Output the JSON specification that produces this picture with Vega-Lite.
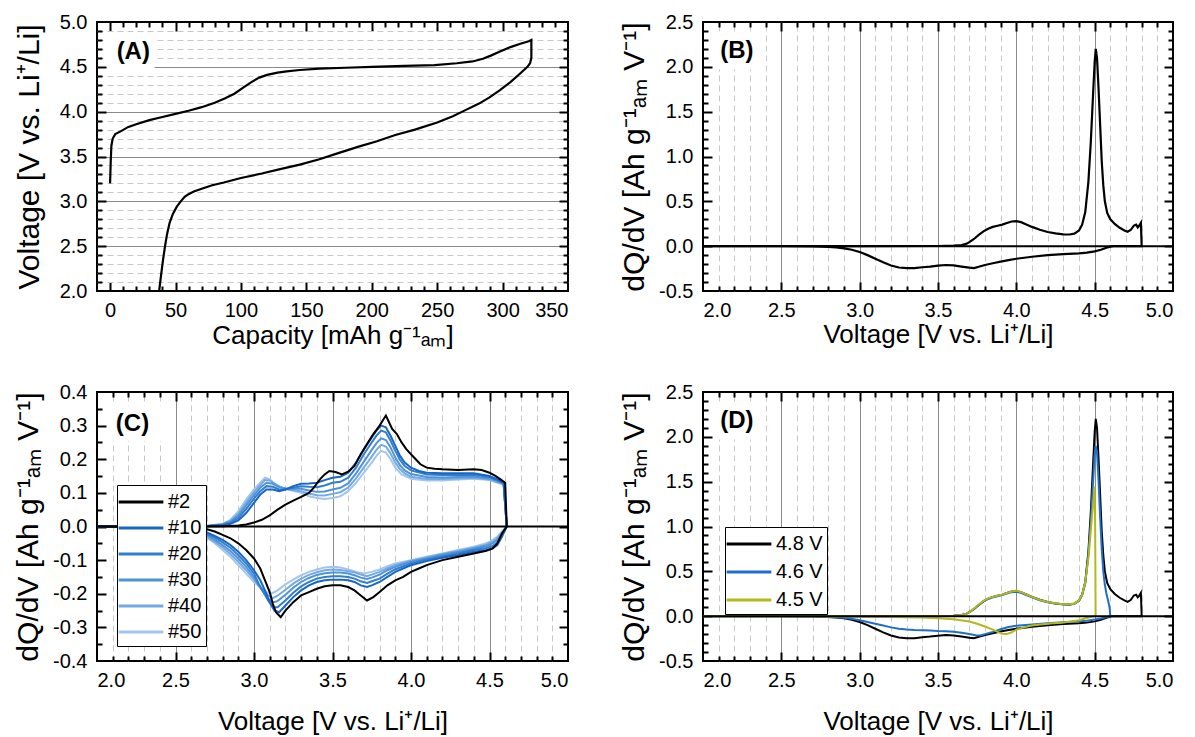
{
"$schema":"https://vega.github.io/schema/vega-lite/v6.json",
"padding":{"left":12,"top":11,"right":5,"bottom":5},
"background":"white",
"config":{
 "font":"Liberation Sans",
 "view":{"stroke":"black","strokeWidth":2},
 "axis":{"domain":false,"ticks":false,"labelFont":"Liberation Sans","labelFontSize":20,"labelColor":"black","titleFont":"Liberation Sans","titleFontSize":26,"titleFontWeight":"normal","titleColor":"black","gridWidth":1},
 "legend":{"labelFont":"Liberation Sans","labelFontSize":20,"labelColor":"black"}
},
"resolve":{"scale":{"color":"independent"},"legend":{"color":"independent"}},
"datasets":{
"a":[
{"c":0,"u":3.2},{"c":0.5,"u":3.45},{"c":1,"u":3.62},{"c":2,"u":3.7},{"c":4,"u":3.75},{"c":8,"u":3.78},{"c":14,"u":3.83},{"c":20,"u":3.86},{"c":30,"u":3.905},{"c":40,"u":3.94},{"c":50,"u":3.975},{"c":60,"u":4.01},{"c":70,"u":4.05},{"c":80,"u":4.1},{"c":88,"u":4.15},{"c":95,"u":4.2},{"c":102,"u":4.27},{"c":108,"u":4.33},{"c":114,"u":4.38},{"c":120,"u":4.41},{"c":128,"u":4.435},{"c":135,"u":4.45},{"c":145,"u":4.465},{"c":160,"u":4.48},{"c":180,"u":4.49},{"c":200,"u":4.5},{"c":225,"u":4.51},{"c":248,"u":4.52},{"c":265,"u":4.54},{"c":277,"u":4.56},{"c":285,"u":4.59},{"c":291,"u":4.625},{"c":298,"u":4.67},{"c":306,"u":4.72},{"c":313,"u":4.755},{"c":320,"u":4.785},{"c":322,"u":4.8},
{"c":322,"u":4.6},{"c":321,"u":4.54},{"c":319,"u":4.5},{"c":313,"u":4.42},{"c":306,"u":4.33},{"c":298,"u":4.24},{"c":290,"u":4.16},{"c":282,"u":4.09},{"c":272,"u":4.02},{"c":262,"u":3.95},{"c":250,"u":3.88},{"c":233,"u":3.8},{"c":218,"u":3.74},{"c":204,"u":3.67},{"c":190,"u":3.61},{"c":175,"u":3.54},{"c":160,"u":3.47},{"c":145,"u":3.41},{"c":130,"u":3.36},{"c":116,"u":3.31},{"c":100,"u":3.26},{"c":87,"u":3.21},{"c":78,"u":3.18},{"c":70,"u":3.14},{"c":64,"u":3.11},{"c":60,"u":3.08},{"c":57,"u":3.05},{"c":54,"u":3.0},{"c":51,"u":2.94},{"c":48,"u":2.86},{"c":45.5,"u":2.76},{"c":43.5,"u":2.63},{"c":42,"u":2.5},{"c":40.5,"u":2.35},{"c":39,"u":2.18},{"c":37.5,"u":2.0}
],
"d":[
{"s":"4.8 V","v":2.0,"q":0},{"s":"4.8 V","v":3.0,"q":0},{"s":"4.8 V","v":3.5,"q":0.002},{"s":"4.8 V","v":3.6,"q":0.005},{"s":"4.8 V","v":3.65,"q":0.012},{"s":"4.8 V","v":3.68,"q":0.025},{"s":"4.8 V","v":3.7,"q":0.045},{"s":"4.8 V","v":3.73,"q":0.08},{"s":"4.8 V","v":3.76,"q":0.125},{"s":"4.8 V","v":3.79,"q":0.165},{"s":"4.8 V","v":3.82,"q":0.195},{"s":"4.8 V","v":3.85,"q":0.215},{"s":"4.8 V","v":3.88,"q":0.228},{"s":"4.8 V","v":3.91,"q":0.24},{"s":"4.8 V","v":3.94,"q":0.258},{"s":"4.8 V","v":3.97,"q":0.275},{"s":"4.8 V","v":4.0,"q":0.28},{"s":"4.8 V","v":4.03,"q":0.268},{"s":"4.8 V","v":4.06,"q":0.245},{"s":"4.8 V","v":4.1,"q":0.215},{"s":"4.8 V","v":4.15,"q":0.183},{"s":"4.8 V","v":4.2,"q":0.158},{"s":"4.8 V","v":4.25,"q":0.142},{"s":"4.8 V","v":4.3,"q":0.132},{"s":"4.8 V","v":4.34,"q":0.13},{"s":"4.8 V","v":4.37,"q":0.14},{"s":"4.8 V","v":4.4,"q":0.175},{"s":"4.8 V","v":4.42,"q":0.24},{"s":"4.8 V","v":4.44,"q":0.38},{"s":"4.8 V","v":4.46,"q":0.72},{"s":"4.8 V","v":4.475,"q":1.15},{"s":"4.8 V","v":4.49,"q":1.7},{"s":"4.8 V","v":4.5,"q":2.05},{"s":"4.8 V","v":4.507,"q":2.2},{"s":"4.8 V","v":4.515,"q":2.1},{"s":"4.8 V","v":4.525,"q":1.75},{"s":"4.8 V","v":4.535,"q":1.35},{"s":"4.8 V","v":4.545,"q":0.95},{"s":"4.8 V","v":4.555,"q":0.68},{"s":"4.8 V","v":4.565,"q":0.5},{"s":"4.8 V","v":4.58,"q":0.37},{"s":"4.8 V","v":4.6,"q":0.3},{"s":"4.8 V","v":4.63,"q":0.245},{"s":"4.8 V","v":4.66,"q":0.205},{"s":"4.8 V","v":4.69,"q":0.175},{"s":"4.8 V","v":4.71,"q":0.16},{"s":"4.8 V","v":4.73,"q":0.18},{"s":"4.8 V","v":4.75,"q":0.23},{"s":"4.8 V","v":4.765,"q":0.24},{"s":"4.8 V","v":4.775,"q":0.21},{"s":"4.8 V","v":4.785,"q":0.23},{"s":"4.8 V","v":4.795,"q":0.26},{"s":"4.8 V","v":4.8,"q":0},
{"s":"4.8 V","v":4.62,"q":0},{"s":"4.8 V","v":4.6,"q":-0.005},{"s":"4.8 V","v":4.57,"q":-0.02},{"s":"4.8 V","v":4.54,"q":-0.04},{"s":"4.8 V","v":4.5,"q":-0.058},{"s":"4.8 V","v":4.45,"q":-0.072},{"s":"4.8 V","v":4.4,"q":-0.08},{"s":"4.8 V","v":4.3,"q":-0.088},{"s":"4.8 V","v":4.2,"q":-0.1},{"s":"4.8 V","v":4.1,"q":-0.118},{"s":"4.8 V","v":4.0,"q":-0.14},{"s":"4.8 V","v":3.95,"q":-0.155},{"s":"4.8 V","v":3.9,"q":-0.172},{"s":"4.8 V","v":3.85,"q":-0.19},{"s":"4.8 V","v":3.8,"q":-0.21},{"s":"4.8 V","v":3.76,"q":-0.23},{"s":"4.8 V","v":3.73,"q":-0.245},{"s":"4.8 V","v":3.7,"q":-0.24},{"s":"4.8 V","v":3.65,"q":-0.228},{"s":"4.8 V","v":3.6,"q":-0.215},{"s":"4.8 V","v":3.55,"q":-0.21},{"s":"4.8 V","v":3.5,"q":-0.218},{"s":"4.8 V","v":3.45,"q":-0.228},{"s":"4.8 V","v":3.4,"q":-0.235},{"s":"4.8 V","v":3.35,"q":-0.245},{"s":"4.8 V","v":3.3,"q":-0.245},{"s":"4.8 V","v":3.25,"q":-0.238},{"s":"4.8 V","v":3.2,"q":-0.215},{"s":"4.8 V","v":3.15,"q":-0.18},{"s":"4.8 V","v":3.1,"q":-0.14},{"s":"4.8 V","v":3.05,"q":-0.1},{"s":"4.8 V","v":3.0,"q":-0.065},{"s":"4.8 V","v":2.95,"q":-0.04},{"s":"4.8 V","v":2.9,"q":-0.024},{"s":"4.8 V","v":2.85,"q":-0.014},{"s":"4.8 V","v":2.8,"q":-0.008},{"s":"4.8 V","v":2.7,"q":-0.004},{"s":"4.8 V","v":2.5,"q":-0.001},{"s":"4.8 V","v":2.0,"q":0},
{"s":"4.6 V","v":2.0,"q":0},{"s":"4.6 V","v":3.0,"q":0},{"s":"4.6 V","v":3.5,"q":0.002},{"s":"4.6 V","v":3.6,"q":0.005},{"s":"4.6 V","v":3.65,"q":0.012},{"s":"4.6 V","v":3.68,"q":0.025},{"s":"4.6 V","v":3.7,"q":0.045},{"s":"4.6 V","v":3.73,"q":0.08},{"s":"4.6 V","v":3.76,"q":0.125},{"s":"4.6 V","v":3.79,"q":0.165},{"s":"4.6 V","v":3.82,"q":0.192},{"s":"4.6 V","v":3.85,"q":0.21},{"s":"4.6 V","v":3.88,"q":0.222},{"s":"4.6 V","v":3.91,"q":0.235},{"s":"4.6 V","v":3.94,"q":0.252},{"s":"4.6 V","v":3.97,"q":0.268},{"s":"4.6 V","v":4.0,"q":0.272},{"s":"4.6 V","v":4.03,"q":0.26},{"s":"4.6 V","v":4.06,"q":0.238},{"s":"4.6 V","v":4.1,"q":0.21},{"s":"4.6 V","v":4.15,"q":0.178},{"s":"4.6 V","v":4.2,"q":0.155},{"s":"4.6 V","v":4.25,"q":0.14},{"s":"4.6 V","v":4.3,"q":0.13},{"s":"4.6 V","v":4.34,"q":0.128},{"s":"4.6 V","v":4.37,"q":0.138},{"s":"4.6 V","v":4.4,"q":0.17},{"s":"4.6 V","v":4.42,"q":0.235},{"s":"4.6 V","v":4.44,"q":0.37},{"s":"4.6 V","v":4.46,"q":0.68},{"s":"4.6 V","v":4.475,"q":1.05},{"s":"4.6 V","v":4.49,"q":1.5},{"s":"4.6 V","v":4.5,"q":1.8},{"s":"4.6 V","v":4.507,"q":1.9},{"s":"4.6 V","v":4.515,"q":1.82},{"s":"4.6 V","v":4.525,"q":1.5},{"s":"4.6 V","v":4.535,"q":1.1},{"s":"4.6 V","v":4.545,"q":0.75},{"s":"4.6 V","v":4.555,"q":0.5},{"s":"4.6 V","v":4.565,"q":0.35},{"s":"4.6 V","v":4.575,"q":0.25},{"s":"4.6 V","v":4.585,"q":0.18},{"s":"4.6 V","v":4.595,"q":0.1},{"s":"4.6 V","v":4.6,"q":0},
{"s":"4.6 V","v":4.57,"q":-0.012},{"s":"4.6 V","v":4.54,"q":-0.025},{"s":"4.6 V","v":4.5,"q":-0.038},{"s":"4.6 V","v":4.45,"q":-0.05},{"s":"4.6 V","v":4.4,"q":-0.058},{"s":"4.6 V","v":4.3,"q":-0.068},{"s":"4.6 V","v":4.2,"q":-0.08},{"s":"4.6 V","v":4.1,"q":-0.093},{"s":"4.6 V","v":4.0,"q":-0.108},{"s":"4.6 V","v":3.95,"q":-0.12},{"s":"4.6 V","v":3.9,"q":-0.145},{"s":"4.6 V","v":3.85,"q":-0.175},{"s":"4.6 V","v":3.8,"q":-0.2},{"s":"4.6 V","v":3.77,"q":-0.215},{"s":"4.6 V","v":3.74,"q":-0.212},{"s":"4.6 V","v":3.7,"q":-0.2},{"s":"4.6 V","v":3.65,"q":-0.185},{"s":"4.6 V","v":3.6,"q":-0.175},{"s":"4.6 V","v":3.55,"q":-0.168},{"s":"4.6 V","v":3.5,"q":-0.165},{"s":"4.6 V","v":3.45,"q":-0.16},{"s":"4.6 V","v":3.4,"q":-0.157},{"s":"4.6 V","v":3.35,"q":-0.155},{"s":"4.6 V","v":3.3,"q":-0.15},{"s":"4.6 V","v":3.25,"q":-0.14},{"s":"4.6 V","v":3.2,"q":-0.125},{"s":"4.6 V","v":3.15,"q":-0.105},{"s":"4.6 V","v":3.1,"q":-0.085},{"s":"4.6 V","v":3.05,"q":-0.065},{"s":"4.6 V","v":3.0,"q":-0.045},{"s":"4.6 V","v":2.95,"q":-0.03},{"s":"4.6 V","v":2.9,"q":-0.018},{"s":"4.6 V","v":2.85,"q":-0.012},{"s":"4.6 V","v":2.8,"q":-0.008},{"s":"4.6 V","v":2.7,"q":-0.004},{"s":"4.6 V","v":2.5,"q":-0.001},{"s":"4.6 V","v":2.0,"q":0},
{"s":"4.5 V","v":2.0,"q":0},{"s":"4.5 V","v":3.0,"q":0},{"s":"4.5 V","v":3.5,"q":0.002},{"s":"4.5 V","v":3.6,"q":0.005},{"s":"4.5 V","v":3.65,"q":0.012},{"s":"4.5 V","v":3.68,"q":0.025},{"s":"4.5 V","v":3.7,"q":0.045},{"s":"4.5 V","v":3.73,"q":0.085},{"s":"4.5 V","v":3.76,"q":0.13},{"s":"4.5 V","v":3.79,"q":0.17},{"s":"4.5 V","v":3.82,"q":0.198},{"s":"4.5 V","v":3.85,"q":0.215},{"s":"4.5 V","v":3.88,"q":0.228},{"s":"4.5 V","v":3.91,"q":0.24},{"s":"4.5 V","v":3.94,"q":0.258},{"s":"4.5 V","v":3.97,"q":0.275},{"s":"4.5 V","v":4.0,"q":0.285},{"s":"4.5 V","v":4.03,"q":0.27},{"s":"4.5 V","v":4.06,"q":0.245},{"s":"4.5 V","v":4.1,"q":0.215},{"s":"4.5 V","v":4.15,"q":0.182},{"s":"4.5 V","v":4.2,"q":0.158},{"s":"4.5 V","v":4.25,"q":0.143},{"s":"4.5 V","v":4.3,"q":0.133},{"s":"4.5 V","v":4.34,"q":0.132},{"s":"4.5 V","v":4.37,"q":0.142},{"s":"4.5 V","v":4.4,"q":0.175},{"s":"4.5 V","v":4.42,"q":0.24},{"s":"4.5 V","v":4.44,"q":0.38},{"s":"4.5 V","v":4.46,"q":0.65},{"s":"4.5 V","v":4.475,"q":0.95},{"s":"4.5 V","v":4.49,"q":1.25},{"s":"4.5 V","v":4.5,"q":1.45},{"s":"4.5 V","v":4.503,"q":1.0},{"s":"4.5 V","v":4.505,"q":0.4},{"s":"4.5 V","v":4.506,"q":0},
{"s":"4.5 V","v":4.48,"q":-0.005},{"s":"4.5 V","v":4.45,"q":-0.02},{"s":"4.5 V","v":4.4,"q":-0.045},{"s":"4.5 V","v":4.35,"q":-0.06},{"s":"4.5 V","v":4.3,"q":-0.07},{"s":"4.5 V","v":4.2,"q":-0.085},{"s":"4.5 V","v":4.1,"q":-0.105},{"s":"4.5 V","v":4.05,"q":-0.125},{"s":"4.5 V","v":4.0,"q":-0.15},{"s":"4.5 V","v":3.97,"q":-0.18},{"s":"4.5 V","v":3.94,"q":-0.2},{"s":"4.5 V","v":3.91,"q":-0.195},{"s":"4.5 V","v":3.88,"q":-0.175},{"s":"4.5 V","v":3.85,"q":-0.15},{"s":"4.5 V","v":3.8,"q":-0.115},{"s":"4.5 V","v":3.75,"q":-0.085},{"s":"4.5 V","v":3.7,"q":-0.06},{"s":"4.5 V","v":3.6,"q":-0.035},{"s":"4.5 V","v":3.5,"q":-0.022},{"s":"4.5 V","v":3.4,"q":-0.015},{"s":"4.5 V","v":3.3,"q":-0.011},{"s":"4.5 V","v":3.2,"q":-0.008},{"s":"4.5 V","v":3.0,"q":-0.005},{"s":"4.5 V","v":2.8,"q":-0.003},{"s":"4.5 V","v":2.5,"q":-0.001},{"s":"4.5 V","v":2.0,"q":0}
],
"c":[
{"s":"#50","v":2.0,"q":0},{"s":"#50","v":2.7,"q":0.002},{"s":"#50","v":2.8,"q":0.008},{"s":"#50","v":2.85,"q":0.02},{"s":"#50","v":2.9,"q":0.045},{"s":"#50","v":2.95,"q":0.08},{"s":"#50","v":3.0,"q":0.11},{"s":"#50","v":3.04,"q":0.13},{"s":"#50","v":3.07,"q":0.145},{"s":"#50","v":3.1,"q":0.14},{"s":"#50","v":3.14,"q":0.125},{"s":"#50","v":3.18,"q":0.115},{"s":"#50","v":3.22,"q":0.11},{"s":"#50","v":3.26,"q":0.105},{"s":"#50","v":3.3,"q":0.1},{"s":"#50","v":3.35,"q":0.09},{"s":"#50","v":3.4,"q":0.085},{"s":"#50","v":3.45,"q":0.082},{"s":"#50","v":3.5,"q":0.085},{"s":"#50","v":3.55,"q":0.09},{"s":"#50","v":3.6,"q":0.105},{"s":"#50","v":3.65,"q":0.13},{"s":"#50","v":3.7,"q":0.16},{"s":"#50","v":3.75,"q":0.19},{"s":"#50","v":3.78,"q":0.21},{"s":"#50","v":3.81,"q":0.225},{"s":"#50","v":3.84,"q":0.22},{"s":"#50","v":3.87,"q":0.2},{"s":"#50","v":3.9,"q":0.175},{"s":"#50","v":3.94,"q":0.155},{"s":"#50","v":4.0,"q":0.142},{"s":"#50","v":4.1,"q":0.137},{"s":"#50","v":4.2,"q":0.137},{"s":"#50","v":4.3,"q":0.14},{"s":"#50","v":4.4,"q":0.142},{"s":"#50","v":4.5,"q":0.138},{"s":"#50","v":4.55,"q":0.13},{"s":"#50","v":4.59,"q":0.125},{"s":"#50","v":4.61,"q":0},
{"s":"#50","v":4.58,"q":-0.015},{"s":"#50","v":4.55,"q":-0.03},{"s":"#50","v":4.52,"q":-0.04},{"s":"#50","v":4.48,"q":-0.05},{"s":"#50","v":4.4,"q":-0.06},{"s":"#50","v":4.3,"q":-0.07},{"s":"#50","v":4.2,"q":-0.08},{"s":"#50","v":4.1,"q":-0.09},{"s":"#50","v":4.0,"q":-0.1},{"s":"#50","v":3.9,"q":-0.11},{"s":"#50","v":3.85,"q":-0.118},{"s":"#50","v":3.8,"q":-0.128},{"s":"#50","v":3.75,"q":-0.135},{"s":"#50","v":3.7,"q":-0.14},{"s":"#50","v":3.65,"q":-0.135},{"s":"#50","v":3.6,"q":-0.128},{"s":"#50","v":3.55,"q":-0.122},{"s":"#50","v":3.5,"q":-0.12},{"s":"#50","v":3.45,"q":-0.122},{"s":"#50","v":3.4,"q":-0.128},{"s":"#50","v":3.35,"q":-0.135},{"s":"#50","v":3.3,"q":-0.145},{"s":"#50","v":3.25,"q":-0.158},{"s":"#50","v":3.2,"q":-0.172},{"s":"#50","v":3.15,"q":-0.19},{"s":"#50","v":3.11,"q":-0.2},{"s":"#50","v":3.08,"q":-0.195},{"s":"#50","v":3.05,"q":-0.185},{"s":"#50","v":3.0,"q":-0.165},{"s":"#50","v":2.95,"q":-0.14},{"s":"#50","v":2.9,"q":-0.115},{"s":"#50","v":2.85,"q":-0.09},{"s":"#50","v":2.8,"q":-0.07},{"s":"#50","v":2.75,"q":-0.05},{"s":"#50","v":2.7,"q":-0.033},{"s":"#50","v":2.65,"q":-0.02},{"s":"#50","v":2.6,"q":-0.012},{"s":"#50","v":2.5,"q":-0.005},{"s":"#50","v":2.0,"q":-0.001},
{"s":"#40","v":2.0,"q":0},{"s":"#40","v":2.7,"q":0.0018},{"s":"#40","v":2.8,"q":0.007},{"s":"#40","v":2.85,"q":0.017},{"s":"#40","v":2.9,"q":0.038},{"s":"#40","v":2.95,"q":0.071},{"s":"#40","v":3.0,"q":0.102},{"s":"#40","v":3.04,"q":0.123},{"s":"#40","v":3.07,"q":0.138},{"s":"#40","v":3.1,"q":0.137},{"s":"#40","v":3.14,"q":0.124},{"s":"#40","v":3.18,"q":0.115},{"s":"#40","v":3.22,"q":0.11},{"s":"#40","v":3.26,"q":0.108},{"s":"#40","v":3.3,"q":0.105},{"s":"#40","v":3.35,"q":0.098},{"s":"#40","v":3.4,"q":0.093},{"s":"#40","v":3.45,"q":0.092},{"s":"#40","v":3.5,"q":0.097},{"s":"#40","v":3.55,"q":0.102},{"s":"#40","v":3.6,"q":0.116},{"s":"#40","v":3.65,"q":0.143},{"s":"#40","v":3.7,"q":0.176},{"s":"#40","v":3.75,"q":0.208},{"s":"#40","v":3.78,"q":0.228},{"s":"#40","v":3.81,"q":0.243},{"s":"#40","v":3.84,"q":0.238},{"s":"#40","v":3.87,"q":0.217},{"s":"#40","v":3.9,"q":0.19},{"s":"#40","v":3.93,"q":0.17},{"s":"#40","v":3.96,"q":0.158},{"s":"#40","v":4.0,"q":0.148},{"s":"#40","v":4.1,"q":0.141},{"s":"#40","v":4.2,"q":0.141},{"s":"#40","v":4.3,"q":0.143},{"s":"#40","v":4.4,"q":0.145},{"s":"#40","v":4.5,"q":0.14},{"s":"#40","v":4.55,"q":0.132},{"s":"#40","v":4.59,"q":0.126},{"s":"#40","v":4.61,"q":0},
{"s":"#40","v":4.58,"q":-0.018},{"s":"#40","v":4.55,"q":-0.035},{"s":"#40","v":4.52,"q":-0.045},{"s":"#40","v":4.48,"q":-0.054},{"s":"#40","v":4.4,"q":-0.063},{"s":"#40","v":4.3,"q":-0.073},{"s":"#40","v":4.2,"q":-0.082},{"s":"#40","v":4.1,"q":-0.092},{"s":"#40","v":4.0,"q":-0.102},{"s":"#40","v":3.9,"q":-0.115},{"s":"#40","v":3.85,"q":-0.124},{"s":"#40","v":3.8,"q":-0.135},{"s":"#40","v":3.75,"q":-0.143},{"s":"#40","v":3.72,"q":-0.148},{"s":"#40","v":3.68,"q":-0.143},{"s":"#40","v":3.64,"q":-0.136},{"s":"#40","v":3.6,"q":-0.133},{"s":"#40","v":3.55,"q":-0.129},{"s":"#40","v":3.5,"q":-0.128},{"s":"#40","v":3.45,"q":-0.13},{"s":"#40","v":3.4,"q":-0.136},{"s":"#40","v":3.35,"q":-0.144},{"s":"#40","v":3.3,"q":-0.155},{"s":"#40","v":3.25,"q":-0.17},{"s":"#40","v":3.2,"q":-0.188},{"s":"#40","v":3.15,"q":-0.206},{"s":"#40","v":3.12,"q":-0.213},{"s":"#40","v":3.09,"q":-0.205},{"s":"#40","v":3.06,"q":-0.19},{"s":"#40","v":3.03,"q":-0.175},{"s":"#40","v":3.0,"q":-0.157},{"s":"#40","v":2.95,"q":-0.13},{"s":"#40","v":2.9,"q":-0.105},{"s":"#40","v":2.85,"q":-0.082},{"s":"#40","v":2.8,"q":-0.062},{"s":"#40","v":2.75,"q":-0.045},{"s":"#40","v":2.7,"q":-0.03},{"s":"#40","v":2.6,"q":-0.011},{"s":"#40","v":2.5,"q":-0.005},{"s":"#40","v":2.0,"q":-0.001},
{"s":"#30","v":2.0,"q":0},{"s":"#30","v":2.7,"q":0.0015},{"s":"#30","v":2.8,"q":0.006},{"s":"#30","v":2.85,"q":0.014},{"s":"#30","v":2.9,"q":0.032},{"s":"#30","v":2.95,"q":0.062},{"s":"#30","v":3.0,"q":0.093},{"s":"#30","v":3.04,"q":0.115},{"s":"#30","v":3.08,"q":0.13},{"s":"#30","v":3.12,"q":0.127},{"s":"#30","v":3.16,"q":0.117},{"s":"#30","v":3.2,"q":0.113},{"s":"#30","v":3.25,"q":0.112},{"s":"#30","v":3.3,"q":0.112},{"s":"#30","v":3.35,"q":0.107},{"s":"#30","v":3.4,"q":0.103},{"s":"#30","v":3.45,"q":0.104},{"s":"#30","v":3.5,"q":0.11},{"s":"#30","v":3.55,"q":0.115},{"s":"#30","v":3.6,"q":0.128},{"s":"#30","v":3.65,"q":0.158},{"s":"#30","v":3.7,"q":0.193},{"s":"#30","v":3.75,"q":0.228},{"s":"#30","v":3.78,"q":0.248},{"s":"#30","v":3.81,"q":0.262},{"s":"#30","v":3.84,"q":0.257},{"s":"#30","v":3.87,"q":0.235},{"s":"#30","v":3.9,"q":0.205},{"s":"#30","v":3.93,"q":0.182},{"s":"#30","v":3.96,"q":0.167},{"s":"#30","v":4.0,"q":0.156},{"s":"#30","v":4.1,"q":0.147},{"s":"#30","v":4.2,"q":0.146},{"s":"#30","v":4.3,"q":0.147},{"s":"#30","v":4.4,"q":0.149},{"s":"#30","v":4.5,"q":0.143},{"s":"#30","v":4.55,"q":0.135},{"s":"#30","v":4.59,"q":0.128},{"s":"#30","v":4.61,"q":0},
{"s":"#30","v":4.58,"q":-0.02},{"s":"#30","v":4.55,"q":-0.04},{"s":"#30","v":4.52,"q":-0.05},{"s":"#30","v":4.48,"q":-0.058},{"s":"#30","v":4.4,"q":-0.066},{"s":"#30","v":4.3,"q":-0.076},{"s":"#30","v":4.2,"q":-0.085},{"s":"#30","v":4.1,"q":-0.095},{"s":"#30","v":4.0,"q":-0.105},{"s":"#30","v":3.9,"q":-0.12},{"s":"#30","v":3.85,"q":-0.13},{"s":"#30","v":3.8,"q":-0.143},{"s":"#30","v":3.75,"q":-0.152},{"s":"#30","v":3.72,"q":-0.156},{"s":"#30","v":3.68,"q":-0.152},{"s":"#30","v":3.64,"q":-0.145},{"s":"#30","v":3.6,"q":-0.14},{"s":"#30","v":3.55,"q":-0.137},{"s":"#30","v":3.5,"q":-0.137},{"s":"#30","v":3.45,"q":-0.139},{"s":"#30","v":3.4,"q":-0.144},{"s":"#30","v":3.35,"q":-0.153},{"s":"#30","v":3.3,"q":-0.165},{"s":"#30","v":3.25,"q":-0.182},{"s":"#30","v":3.2,"q":-0.203},{"s":"#30","v":3.15,"q":-0.222},{"s":"#30","v":3.12,"q":-0.226},{"s":"#30","v":3.09,"q":-0.215},{"s":"#30","v":3.06,"q":-0.195},{"s":"#30","v":3.03,"q":-0.175},{"s":"#30","v":3.0,"q":-0.15},{"s":"#30","v":2.95,"q":-0.12},{"s":"#30","v":2.9,"q":-0.095},{"s":"#30","v":2.85,"q":-0.073},{"s":"#30","v":2.8,"q":-0.055},{"s":"#30","v":2.75,"q":-0.04},{"s":"#30","v":2.7,"q":-0.026},{"s":"#30","v":2.6,"q":-0.01},{"s":"#30","v":2.5,"q":-0.004},{"s":"#30","v":2.0,"q":-0.001},
{"s":"#20","v":2.0,"q":0},{"s":"#20","v":2.7,"q":0.001},{"s":"#20","v":2.8,"q":0.005},{"s":"#20","v":2.85,"q":0.011},{"s":"#20","v":2.9,"q":0.025},{"s":"#20","v":2.95,"q":0.052},{"s":"#20","v":3.0,"q":0.083},{"s":"#20","v":3.04,"q":0.105},{"s":"#20","v":3.08,"q":0.12},{"s":"#20","v":3.12,"q":0.118},{"s":"#20","v":3.16,"q":0.11},{"s":"#20","v":3.2,"q":0.11},{"s":"#20","v":3.25,"q":0.115},{"s":"#20","v":3.3,"q":0.12},{"s":"#20","v":3.35,"q":0.118},{"s":"#20","v":3.4,"q":0.117},{"s":"#20","v":3.45,"q":0.122},{"s":"#20","v":3.5,"q":0.13},{"s":"#20","v":3.55,"q":0.133},{"s":"#20","v":3.6,"q":0.145},{"s":"#20","v":3.65,"q":0.175},{"s":"#20","v":3.7,"q":0.215},{"s":"#20","v":3.75,"q":0.25},{"s":"#20","v":3.78,"q":0.27},{"s":"#20","v":3.81,"q":0.285},{"s":"#20","v":3.84,"q":0.28},{"s":"#20","v":3.87,"q":0.255},{"s":"#20","v":3.9,"q":0.225},{"s":"#20","v":3.93,"q":0.198},{"s":"#20","v":3.96,"q":0.18},{"s":"#20","v":4.0,"q":0.167},{"s":"#20","v":4.1,"q":0.155},{"s":"#20","v":4.2,"q":0.153},{"s":"#20","v":4.3,"q":0.153},{"s":"#20","v":4.4,"q":0.154},{"s":"#20","v":4.5,"q":0.147},{"s":"#20","v":4.55,"q":0.138},{"s":"#20","v":4.59,"q":0.13},{"s":"#20","v":4.61,"q":0},
{"s":"#20","v":4.58,"q":-0.025},{"s":"#20","v":4.55,"q":-0.048},{"s":"#20","v":4.52,"q":-0.058},{"s":"#20","v":4.48,"q":-0.064},{"s":"#20","v":4.4,"q":-0.07},{"s":"#20","v":4.3,"q":-0.08},{"s":"#20","v":4.2,"q":-0.089},{"s":"#20","v":4.1,"q":-0.099},{"s":"#20","v":4.0,"q":-0.11},{"s":"#20","v":3.9,"q":-0.127},{"s":"#20","v":3.85,"q":-0.14},{"s":"#20","v":3.8,"q":-0.155},{"s":"#20","v":3.75,"q":-0.163},{"s":"#20","v":3.72,"q":-0.168},{"s":"#20","v":3.68,"q":-0.163},{"s":"#20","v":3.64,"q":-0.155},{"s":"#20","v":3.6,"q":-0.15},{"s":"#20","v":3.55,"q":-0.148},{"s":"#20","v":3.5,"q":-0.148},{"s":"#20","v":3.45,"q":-0.15},{"s":"#20","v":3.4,"q":-0.155},{"s":"#20","v":3.35,"q":-0.165},{"s":"#20","v":3.3,"q":-0.178},{"s":"#20","v":3.25,"q":-0.197},{"s":"#20","v":3.2,"q":-0.22},{"s":"#20","v":3.15,"q":-0.24},{"s":"#20","v":3.12,"q":-0.24},{"s":"#20","v":3.09,"q":-0.22},{"s":"#20","v":3.06,"q":-0.195},{"s":"#20","v":3.03,"q":-0.17},{"s":"#20","v":3.0,"q":-0.14},{"s":"#20","v":2.95,"q":-0.11},{"s":"#20","v":2.9,"q":-0.085},{"s":"#20","v":2.85,"q":-0.063},{"s":"#20","v":2.8,"q":-0.047},{"s":"#20","v":2.75,"q":-0.033},{"s":"#20","v":2.7,"q":-0.022},{"s":"#20","v":2.6,"q":-0.009},{"s":"#20","v":2.5,"q":-0.004},{"s":"#20","v":2.0,"q":-0.001},
{"s":"#10","v":2.0,"q":0},{"s":"#10","v":2.7,"q":0.001},{"s":"#10","v":2.8,"q":0.004},{"s":"#10","v":2.85,"q":0.008},{"s":"#10","v":2.9,"q":0.018},{"s":"#10","v":2.95,"q":0.04},{"s":"#10","v":3.0,"q":0.07},{"s":"#10","v":3.04,"q":0.095},{"s":"#10","v":3.08,"q":0.11},{"s":"#10","v":3.12,"q":0.11},{"s":"#10","v":3.16,"q":0.105},{"s":"#10","v":3.2,"q":0.11},{"s":"#10","v":3.25,"q":0.12},{"s":"#10","v":3.3,"q":0.127},{"s":"#10","v":3.35,"q":0.128},{"s":"#10","v":3.4,"q":0.13},{"s":"#10","v":3.45,"q":0.138},{"s":"#10","v":3.5,"q":0.145},{"s":"#10","v":3.55,"q":0.148},{"s":"#10","v":3.6,"q":0.16},{"s":"#10","v":3.65,"q":0.19},{"s":"#10","v":3.7,"q":0.23},{"s":"#10","v":3.75,"q":0.265},{"s":"#10","v":3.78,"q":0.285},{"s":"#10","v":3.81,"q":0.3},{"s":"#10","v":3.84,"q":0.295},{"s":"#10","v":3.87,"q":0.27},{"s":"#10","v":3.9,"q":0.24},{"s":"#10","v":3.93,"q":0.21},{"s":"#10","v":3.96,"q":0.19},{"s":"#10","v":4.0,"q":0.175},{"s":"#10","v":4.05,"q":0.165},{"s":"#10","v":4.1,"q":0.16},{"s":"#10","v":4.2,"q":0.158},{"s":"#10","v":4.3,"q":0.158},{"s":"#10","v":4.4,"q":0.158},{"s":"#10","v":4.5,"q":0.15},{"s":"#10","v":4.55,"q":0.14},{"s":"#10","v":4.59,"q":0.13},{"s":"#10","v":4.61,"q":0},
{"s":"#10","v":4.58,"q":-0.03},{"s":"#10","v":4.55,"q":-0.055},{"s":"#10","v":4.52,"q":-0.065},{"s":"#10","v":4.48,"q":-0.07},{"s":"#10","v":4.4,"q":-0.075},{"s":"#10","v":4.3,"q":-0.085},{"s":"#10","v":4.2,"q":-0.093},{"s":"#10","v":4.1,"q":-0.103},{"s":"#10","v":4.0,"q":-0.115},{"s":"#10","v":3.95,"q":-0.125},{"s":"#10","v":3.9,"q":-0.135},{"s":"#10","v":3.85,"q":-0.15},{"s":"#10","v":3.8,"q":-0.165},{"s":"#10","v":3.75,"q":-0.175},{"s":"#10","v":3.72,"q":-0.18},{"s":"#10","v":3.68,"q":-0.175},{"s":"#10","v":3.64,"q":-0.165},{"s":"#10","v":3.6,"q":-0.16},{"s":"#10","v":3.55,"q":-0.158},{"s":"#10","v":3.5,"q":-0.158},{"s":"#10","v":3.45,"q":-0.16},{"s":"#10","v":3.4,"q":-0.165},{"s":"#10","v":3.35,"q":-0.175},{"s":"#10","v":3.3,"q":-0.19},{"s":"#10","v":3.25,"q":-0.21},{"s":"#10","v":3.2,"q":-0.235},{"s":"#10","v":3.16,"q":-0.255},{"s":"#10","v":3.13,"q":-0.25},{"s":"#10","v":3.1,"q":-0.225},{"s":"#10","v":3.07,"q":-0.19},{"s":"#10","v":3.04,"q":-0.16},{"s":"#10","v":3.0,"q":-0.13},{"s":"#10","v":2.95,"q":-0.1},{"s":"#10","v":2.9,"q":-0.075},{"s":"#10","v":2.85,"q":-0.055},{"s":"#10","v":2.8,"q":-0.04},{"s":"#10","v":2.75,"q":-0.028},{"s":"#10","v":2.7,"q":-0.018},{"s":"#10","v":2.6,"q":-0.008},{"s":"#10","v":2.5,"q":-0.003},{"s":"#10","v":2.0,"q":-0.001},
{"s":"#2","v":2.0,"q":0},{"s":"#2","v":2.5,"q":0},{"s":"#2","v":2.8,"q":0.001},{"s":"#2","v":2.9,"q":0.003},{"s":"#2","v":2.95,"q":0.006},{"s":"#2","v":3.0,"q":0.012},{"s":"#2","v":3.05,"q":0.02},{"s":"#2","v":3.1,"q":0.033},{"s":"#2","v":3.15,"q":0.05},{"s":"#2","v":3.2,"q":0.065},{"s":"#2","v":3.25,"q":0.077},{"s":"#2","v":3.3,"q":0.088},{"s":"#2","v":3.35,"q":0.1},{"s":"#2","v":3.38,"q":0.115},{"s":"#2","v":3.42,"q":0.14},{"s":"#2","v":3.45,"q":0.155},{"s":"#2","v":3.48,"q":0.165},{"s":"#2","v":3.52,"q":0.162},{"s":"#2","v":3.56,"q":0.155},{"s":"#2","v":3.6,"q":0.163},{"s":"#2","v":3.64,"q":0.18},{"s":"#2","v":3.68,"q":0.215},{"s":"#2","v":3.72,"q":0.245},{"s":"#2","v":3.76,"q":0.275},{"s":"#2","v":3.8,"q":0.3},{"s":"#2","v":3.82,"q":0.315},{"s":"#2","v":3.84,"q":0.33},{"s":"#2","v":3.86,"q":0.31},{"s":"#2","v":3.88,"q":0.29},{"s":"#2","v":3.91,"q":0.275},{"s":"#2","v":3.94,"q":0.25},{"s":"#2","v":3.97,"q":0.23},{"s":"#2","v":4.0,"q":0.215},{"s":"#2","v":4.03,"q":0.2},{"s":"#2","v":4.06,"q":0.185},{"s":"#2","v":4.1,"q":0.175},{"s":"#2","v":4.15,"q":0.172},{"s":"#2","v":4.2,"q":0.17},{"s":"#2","v":4.3,"q":0.168},{"s":"#2","v":4.4,"q":0.17},{"s":"#2","v":4.45,"q":0.168},{"s":"#2","v":4.5,"q":0.16},{"s":"#2","v":4.54,"q":0.15},{"s":"#2","v":4.57,"q":0.14},{"s":"#2","v":4.6,"q":0.13},{"s":"#2","v":4.61,"q":0},
{"s":"#2","v":4.58,"q":-0.02},{"s":"#2","v":4.55,"q":-0.05},{"s":"#2","v":4.52,"q":-0.065},{"s":"#2","v":4.48,"q":-0.072},{"s":"#2","v":4.4,"q":-0.08},{"s":"#2","v":4.3,"q":-0.09},{"s":"#2","v":4.2,"q":-0.1},{"s":"#2","v":4.1,"q":-0.115},{"s":"#2","v":4.05,"q":-0.125},{"s":"#2","v":4.0,"q":-0.135},{"s":"#2","v":3.95,"q":-0.15},{"s":"#2","v":3.9,"q":-0.16},{"s":"#2","v":3.85,"q":-0.175},{"s":"#2","v":3.8,"q":-0.195},{"s":"#2","v":3.76,"q":-0.21},{"s":"#2","v":3.72,"q":-0.22},{"s":"#2","v":3.68,"q":-0.205},{"s":"#2","v":3.64,"q":-0.19},{"s":"#2","v":3.6,"q":-0.18},{"s":"#2","v":3.55,"q":-0.175},{"s":"#2","v":3.5,"q":-0.175},{"s":"#2","v":3.45,"q":-0.178},{"s":"#2","v":3.4,"q":-0.185},{"s":"#2","v":3.35,"q":-0.195},{"s":"#2","v":3.3,"q":-0.205},{"s":"#2","v":3.25,"q":-0.225},{"s":"#2","v":3.2,"q":-0.25},{"s":"#2","v":3.17,"q":-0.27},{"s":"#2","v":3.14,"q":-0.255},{"s":"#2","v":3.12,"q":-0.23},{"s":"#2","v":3.1,"q":-0.195},{"s":"#2","v":3.07,"q":-0.16},{"s":"#2","v":3.04,"q":-0.125},{"s":"#2","v":3.0,"q":-0.095},{"s":"#2","v":2.95,"q":-0.07},{"s":"#2","v":2.9,"q":-0.05},{"s":"#2","v":2.85,"q":-0.035},{"s":"#2","v":2.8,"q":-0.025},{"s":"#2","v":2.75,"q":-0.015},{"s":"#2","v":2.7,"q":-0.008},{"s":"#2","v":2.6,"q":-0.003},{"s":"#2","v":2.5,"q":-0.001},{"s":"#2","v":2.0,"q":0}
]
},
"columns":2,
"bounds":"flush",
"spacing":{"row":101,"column":135},
"concat":[
{
 "width":471,"height":269,
 "resolve":{"axis":{"x":"independent","y":"independent"}},
 "layer":[
  {"data":{"name":"a"},"mark":{"type":"line","color":"black","strokeWidth":2.2},
   "encoding":{
    "x":{"field":"c","type":"quantitative","scale":{"domain":[-10,350],"nice":false,"zero":false},
     "axis":{"orient":"bottom","values":[0,50,100,150,200,250,300,350],"format":"d","labelPadding":9,"grid":false,"title":"Capacity [mAh g⁻¹ₐₘ]","titlePadding":2}},
    "y":{"field":"u","type":"quantitative","scale":{"domain":[2,5],"nice":false,"zero":false},
     "axis":{"orient":"left","values":[2,2.5,3,3.5,4,4.5,5],"format":".1f","labelPadding":10,"grid":false,"title":"Voltage [V vs. Li⁺/Li]","titleFontSize":30,"titlePadding":15}},
    "order":{"value":null}}},
  {"data":{"values":[{}]},"mark":{"type":"point","opacity":0},
   "encoding":{
    "y":{"datum":3,"type":"quantitative","axis":{"orient":"left","values":[2.1,2.2,2.3,2.4,2.5,2.6,2.7,2.8,2.9,3,3.1,3.2,3.3,3.4,3.5,3.6,3.7,3.8,3.9,4,4.1,4.2,4.3,4.4,4.5,4.6,4.7,4.8,4.9],"labels":false,"grid":true,"zindex":0,
     "gridColor":{"condition":{"test":"abs(datum.value*2-round(datum.value*2))<0.001","value":"#8a8a8a"},"value":"#c8c8c8"},
     "gridDash":{"condition":{"test":"abs(datum.value*2-round(datum.value*2))<0.001","value":[]},"value":[6,4]},"title":null}}}},
  {"data":{"values":[{}]},"mark":{"type":"point","opacity":0},
   "encoding":{
    "x":{"datum":100,"type":"quantitative","axis":{"orient":"bottom","values":[0,10,20,30,40,50,60,70,80,90,100,110,120,130,140,150,160,170,180,190,200,210,220,230,240,250,260,270,280,290,300,310,320,330,340],"labels":false,"grid":true,"zindex":0,"gridColor":"#000000","gridWidth":2,
     "gridDash":{"condition":{"test":"datum.value % 50 === 0","value":[9,251]},"value":[5,259]},"title":null}},
    "y":{"datum":3,"type":"quantitative","axis":{"orient":"left","values":[2.1,2.2,2.3,2.4,2.5,2.6,2.7,2.8,2.9,3,3.1,3.2,3.3,3.4,3.5,3.6,3.7,3.8,3.9,4,4.1,4.2,4.3,4.4,4.5,4.6,4.7,4.8,4.9],"labels":false,"grid":true,"zindex":0,"gridColor":"#000000","gridWidth":2,
     "gridDash":{"condition":{"test":"abs(datum.value*2-round(datum.value*2))<0.001","value":[9,453]},"value":[5,461]},"title":null}}}},
  {"data":{"values":[{}]},"mark":{"type":"rect","color":"white"},
   "encoding":{"x":{"datum":-2.5,"type":"quantitative","axis":null},"x2":{"datum":34},"y":{"datum":4.47,"type":"quantitative","axis":null},"y2":{"datum":4.84}}},
  {"data":{"values":[{}]},"mark":{"type":"text","text":"(A)","fontWeight":"bold","fontSize":24,"align":"left","baseline":"middle","font":"Liberation Sans","color":"black"},
   "encoding":{"x":{"datum":5,"type":"quantitative","axis":null},"y":{"datum":4.66,"type":"quantitative","axis":null}}}
 ]
},
{
 "width":470,"height":269,
 "resolve":{"axis":{"x":"independent","y":"independent"}},
 "layer":[
  {"data":{"name":"d"},"transform":[{"filter":"datum.s === '4.8 V'"}],"mark":{"type":"line","color":"black","strokeWidth":2.2},
   "encoding":{
    "x":{"field":"v","type":"quantitative","scale":{"domain":[2,5],"nice":false,"zero":false},
     "axis":{"orient":"bottom","values":[2,2.5,3,3.5,4,4.5,5],"format":".1f","labelPadding":9,"grid":false,"title":"Voltage [V vs. Li⁺/Li]","titlePadding":1}},
    "y":{"field":"q","type":"quantitative","scale":{"domain":[-0.5,2.5],"nice":false,"zero":false},
     "axis":{"orient":"left","values":[-0.5,0,0.5,1,1.5,2,2.5],"labelExpr":"replace(format(datum.value,'.1f'),'−','-')","labelPadding":10,"grid":false,"title":"dQ/dV [Ah g⁻¹ₐₘ V⁻¹]","titleFontSize":30,"titlePadding":9}},
    "order":{"value":null}}},
  {"data":{"values":[{}]},"mark":{"type":"point","opacity":0},
   "encoding":{
    "x":{"datum":3,"type":"quantitative","axis":{"orient":"bottom","values":[2.1,2.2,2.3,2.4,2.5,2.6,2.7,2.8,2.9,3,3.1,3.2,3.3,3.4,3.5,3.6,3.7,3.8,3.9,4,4.1,4.2,4.3,4.4,4.5,4.6,4.7,4.8,4.9],"labels":false,"grid":true,"zindex":0,
     "gridColor":{"condition":{"test":"abs(datum.value*2-round(datum.value*2))<0.001","value":"#8a8a8a"},"value":"#c8c8c8"},
     "gridDash":{"condition":{"test":"abs(datum.value*2-round(datum.value*2))<0.001","value":[]},"value":[6,4]},"title":null}}}},
  {"data":{"values":[{}]},"mark":{"type":"point","opacity":0},
   "encoding":{
    "x":{"datum":3,"type":"quantitative","axis":{"orient":"bottom","values":[2.1,2.2,2.3,2.4,2.5,2.6,2.7,2.8,2.9,3,3.1,3.2,3.3,3.4,3.5,3.6,3.7,3.8,3.9,4,4.1,4.2,4.3,4.4,4.5,4.6,4.7,4.8,4.9],"labels":false,"grid":true,"zindex":0,"gridColor":"#000000","gridWidth":2,
     "gridDash":{"condition":{"test":"abs(datum.value*2-round(datum.value*2))<0.001","value":[9,251]},"value":[5,259]},"title":null}},
    "y":{"datum":0,"type":"quantitative","axis":{"orient":"left","values":[-0.4,-0.3,-0.2,-0.1,0,0.1,0.2,0.3,0.4,0.5,0.6,0.7,0.8,0.9,1,1.1,1.2,1.3,1.4,1.5,1.6,1.7,1.8,1.9,2,2.1,2.2,2.3,2.4],"labels":false,"grid":true,"zindex":0,"gridColor":"#000000","gridWidth":2,
     "gridDash":{"condition":{"test":"abs(datum.value*2-round(datum.value*2))<0.001","value":[9,452]},"value":[5,460]},"title":null}}}},
  {"data":{"values":[{}]},"mark":{"type":"rule","color":"black","strokeWidth":2},
   "encoding":{"y":{"datum":0,"type":"quantitative","axis":null}}},
  {"data":{"values":[{}]},"mark":{"type":"rect","color":"white"},
   "encoding":{"x":{"datum":2.07,"type":"quantitative","axis":null},"x2":{"datum":2.4},"y":{"datum":1.97,"type":"quantitative","axis":null},"y2":{"datum":2.39}}},
  {"data":{"values":[{}]},"mark":{"type":"text","text":"(B)","fontWeight":"bold","fontSize":24,"align":"left","baseline":"middle","font":"Liberation Sans","color":"black"},
   "encoding":{"x":{"datum":2.11,"type":"quantitative","axis":null},"y":{"datum":2.18,"type":"quantitative","axis":null}}}
 ]
},
{
 "width":471,"height":269,
 "resolve":{"axis":{"x":"independent","y":"independent"}},
 "layer":[
  {"data":{"name":"c"},"mark":{"type":"line","strokeWidth":2},
   "encoding":{
    "x":{"field":"v","type":"quantitative","scale":{"domain":[2,5],"nice":false,"zero":false},
     "axis":{"orient":"bottom","values":[2,2.5,3,3.5,4,4.5,5],"format":".1f","labelPadding":9,"grid":false,"title":"Voltage [V vs. Li⁺/Li]","titlePadding":18}},
    "y":{"field":"q","type":"quantitative","scale":{"domain":[-0.4,0.4],"nice":false,"zero":false},
     "axis":{"orient":"left","values":[-0.4,-0.3,-0.2,-0.1,0,0.1,0.2,0.3,0.4],"labelExpr":"replace(format(datum.value,'.1f'),'−','-')","labelPadding":10,"grid":false,"title":"dQ/dV [Ah g⁻¹ₐₘ V⁻¹]","titleFontSize":30,"titlePadding":9}},
    "color":{"field":"s","type":"nominal","scale":{"domain":["#2","#10","#20","#30","#40","#50"],"range":["#000000","#1a66c4","#2f7ed0","#5093d9","#74aae3","#a3c6ee"]},
     "legend":{"orient":"none","legendX":20,"legendY":93,"title":null,"strokeColor":"black","fillColor":"white","padding":4,"symbolType":"M-2,0H2","symbolSize":500,"symbolStrokeWidth":3,"symbolOffset":7,"labelOffset":14,"rowPadding":3,"labelFontSize":20}},
    "order":{"value":null}}},
  {"data":{"values":[{}]},"mark":{"type":"point","opacity":0},
   "encoding":{
    "x":{"datum":3,"type":"quantitative","axis":{"orient":"bottom","values":[2.1,2.2,2.3,2.4,2.5,2.6,2.7,2.8,2.9,3,3.1,3.2,3.3,3.4,3.5,3.6,3.7,3.8,3.9,4,4.1,4.2,4.3,4.4,4.5,4.6,4.7,4.8,4.9],"labels":false,"grid":true,"zindex":0,
     "gridColor":{"condition":{"test":"abs(datum.value*2-round(datum.value*2))<0.001","value":"#8a8a8a"},"value":"#c8c8c8"},
     "gridDash":{"condition":{"test":"abs(datum.value*2-round(datum.value*2))<0.001","value":[]},"value":[6,4]},"title":null}}}},
  {"data":{"values":[{}]},"mark":{"type":"point","opacity":0},
   "encoding":{
    "x":{"datum":3,"type":"quantitative","axis":{"orient":"bottom","values":[2.1,2.2,2.3,2.4,2.5,2.6,2.7,2.8,2.9,3,3.1,3.2,3.3,3.4,3.5,3.6,3.7,3.8,3.9,4,4.1,4.2,4.3,4.4,4.5,4.6,4.7,4.8,4.9],"labels":false,"grid":true,"zindex":0,"gridColor":"#000000","gridWidth":2,
     "gridDash":{"condition":{"test":"abs(datum.value*2-round(datum.value*2))<0.001","value":[9,251]},"value":[5,259]},"title":null}},
    "y":{"datum":0,"type":"quantitative","axis":{"orient":"left","values":[-0.35,-0.3,-0.25,-0.2,-0.15,-0.1,-0.05,0,0.05,0.1,0.15,0.2,0.25,0.3,0.35],"labels":false,"grid":true,"zindex":0,"gridColor":"#000000","gridWidth":2,
     "gridDash":{"condition":{"test":"abs(datum.value*10-round(datum.value*10))<0.001","value":[9,453]},"value":[5,461]},"title":null}}}},
  {"data":{"values":[{}]},"mark":{"type":"rule","color":"black","strokeWidth":2},
   "encoding":{"y":{"datum":0,"type":"quantitative","axis":null}}},
  {"data":{"values":[{}]},"mark":{"type":"rect","color":"white"},
   "encoding":{"x":{"datum":2.07,"type":"quantitative","axis":null},"x2":{"datum":2.41},"y":{"datum":0.255,"type":"quantitative","axis":null},"y2":{"datum":0.36}}},
  {"data":{"values":[{}]},"mark":{"type":"text","text":"(C)","fontWeight":"bold","fontSize":24,"align":"left","baseline":"middle","font":"Liberation Sans","color":"black"},
   "encoding":{"x":{"datum":2.12,"type":"quantitative","axis":null},"y":{"datum":0.306,"type":"quantitative","axis":null}}}
 ]
},
{
 "width":470,"height":269,
 "resolve":{"axis":{"x":"independent","y":"independent"}},
 "layer":[
  {"data":{"name":"d"},"mark":{"type":"line","strokeWidth":2},
   "encoding":{
    "x":{"field":"v","type":"quantitative","scale":{"domain":[2,5],"nice":false,"zero":false},
     "axis":{"orient":"bottom","values":[2,2.5,3,3.5,4,4.5,5],"format":".1f","labelPadding":9,"grid":false,"title":"Voltage [V vs. Li⁺/Li]","titlePadding":18}},
    "y":{"field":"q","type":"quantitative","scale":{"domain":[-0.5,2.5],"nice":false,"zero":false},
     "axis":{"orient":"left","values":[-0.5,0,0.5,1,1.5,2,2.5],"labelExpr":"replace(format(datum.value,'.1f'),'−','-')","labelPadding":10,"grid":false,"title":"dQ/dV [Ah g⁻¹ₐₘ V⁻¹]","titleFontSize":30,"titlePadding":9}},
    "color":{"field":"s","type":"nominal","scale":{"domain":["4.8 V","4.6 V","4.5 V"],"range":["#000000","#1f6fc8","#b3b81e"]},
     "legend":{"orient":"none","legendX":22,"legendY":135,"title":null,"strokeColor":"black","fillColor":"white","padding":4,"symbolType":"M-2,0H2","symbolSize":500,"symbolStrokeWidth":3,"symbolOffset":7,"labelOffset":14,"rowPadding":5,"labelFontSize":20}},
    "order":{"value":null}}},
  {"data":{"values":[{}]},"mark":{"type":"point","opacity":0},
   "encoding":{
    "x":{"datum":3,"type":"quantitative","axis":{"orient":"bottom","values":[2.1,2.2,2.3,2.4,2.5,2.6,2.7,2.8,2.9,3,3.1,3.2,3.3,3.4,3.5,3.6,3.7,3.8,3.9,4,4.1,4.2,4.3,4.4,4.5,4.6,4.7,4.8,4.9],"labels":false,"grid":true,"zindex":0,
     "gridColor":{"condition":{"test":"abs(datum.value*2-round(datum.value*2))<0.001","value":"#8a8a8a"},"value":"#c8c8c8"},
     "gridDash":{"condition":{"test":"abs(datum.value*2-round(datum.value*2))<0.001","value":[]},"value":[6,4]},"title":null}}}},
  {"data":{"values":[{}]},"mark":{"type":"point","opacity":0},
   "encoding":{
    "x":{"datum":3,"type":"quantitative","axis":{"orient":"bottom","values":[2.1,2.2,2.3,2.4,2.5,2.6,2.7,2.8,2.9,3,3.1,3.2,3.3,3.4,3.5,3.6,3.7,3.8,3.9,4,4.1,4.2,4.3,4.4,4.5,4.6,4.7,4.8,4.9],"labels":false,"grid":true,"zindex":0,"gridColor":"#000000","gridWidth":2,
     "gridDash":{"condition":{"test":"abs(datum.value*2-round(datum.value*2))<0.001","value":[9,251]},"value":[5,259]},"title":null}},
    "y":{"datum":0,"type":"quantitative","axis":{"orient":"left","values":[-0.4,-0.3,-0.2,-0.1,0,0.1,0.2,0.3,0.4,0.5,0.6,0.7,0.8,0.9,1,1.1,1.2,1.3,1.4,1.5,1.6,1.7,1.8,1.9,2,2.1,2.2,2.3,2.4],"labels":false,"grid":true,"zindex":0,"gridColor":"#000000","gridWidth":2,
     "gridDash":{"condition":{"test":"abs(datum.value*2-round(datum.value*2))<0.001","value":[9,452]},"value":[5,460]},"title":null}}}},
  {"data":{"values":[{}]},"mark":{"type":"rule","color":"black","strokeWidth":2},
   "encoding":{"y":{"datum":0,"type":"quantitative","axis":null}}},
  {"data":{"values":[{}]},"mark":{"type":"rect","color":"white"},
   "encoding":{"x":{"datum":2.07,"type":"quantitative","axis":null},"x2":{"datum":2.4},"y":{"datum":1.97,"type":"quantitative","axis":null},"y2":{"datum":2.39}}},
  {"data":{"values":[{}]},"mark":{"type":"text","text":"(D)","fontWeight":"bold","fontSize":24,"align":"left","baseline":"middle","font":"Liberation Sans","color":"black"},
   "encoding":{"x":{"datum":2.11,"type":"quantitative","axis":null},"y":{"datum":2.18,"type":"quantitative","axis":null}}}
 ]
}
]
}
